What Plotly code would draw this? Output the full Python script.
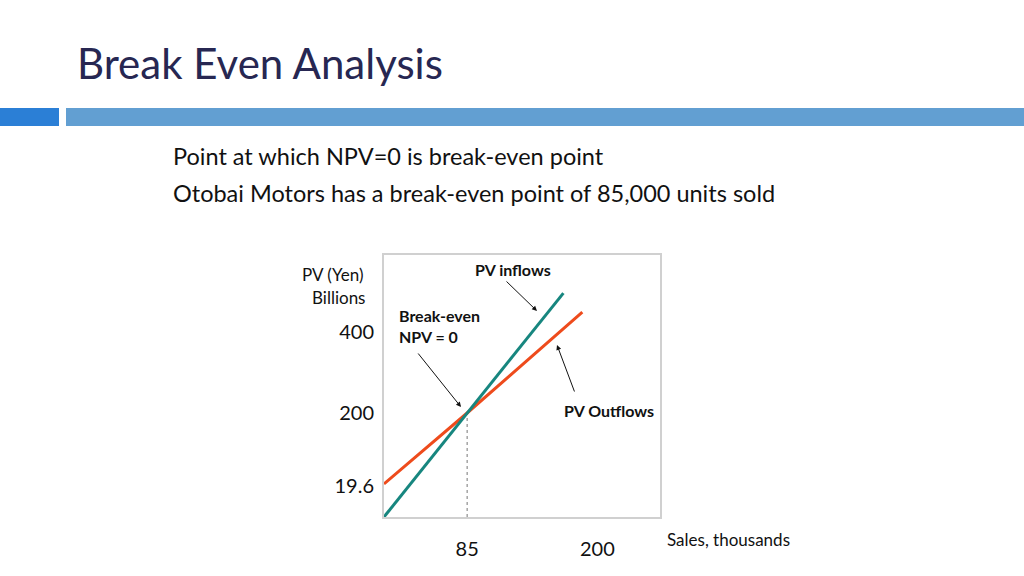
import plotly.graph_objects as go

# data (sales in thousands, PV in yen billions)
sales_in = [11.6, 85, 170]
pv_inflows = [-57.6, 200, 497]
sales_out = [11.6, 85, 186.7]
pv_outflows = [24.2, 200, 450]
breakeven_sales = 85
breakeven_pv = 200

x_ticks = [85, 200]
y_ticks = [19.6, 200, 400]
y_ticktext = ["19.6", "200", "400"]

FONT = "Lato"
W, H = 1024, 576

def px(x):
    return x / W

def py(y):
    return 1 - y / H

fig = go.Figure()

# dotted drop line at break-even
fig.add_trace(go.Scatter(x=[breakeven_sales, breakeven_sales], y=[-57.6, breakeven_pv],
                         mode="lines", line=dict(color="#777777", width=1, dash="dot"),
                         hoverinfo="skip"))
fig.add_trace(go.Scatter(x=sales_out, y=pv_outflows, mode="lines", name="PV Outflows",
                         line=dict(color="#ee4b1c", width=3)))
fig.add_trace(go.Scatter(x=sales_in, y=pv_inflows, mode="lines", name="PV inflows",
                         line=dict(color="#17867f", width=3)))

fig.update_layout(
    width=W, height=H,
    margin=dict(l=0, r=0, t=0, b=0),
    paper_bgcolor="white", plot_bgcolor="white",
    showlegend=False,
    font=dict(family=FONT, color="#111111"),
    xaxis=dict(domain=[px(384), px(660)], range=[11.6, 255.3],
               tickvals=x_ticks, ticktext=[str(v) for v in x_ticks],
               tickfont=dict(size=20), ticks="", ticklabelstandoff=13,
               showgrid=False, zeroline=False, showline=True, mirror=True,
               linecolor="#d0d0d0", linewidth=2),
    yaxis=dict(domain=[py(517), py(255)], range=[-57.6, 591.3],
               tickvals=y_ticks, ticktext=y_ticktext,
               tickfont=dict(size=20), ticks="", ticklabelstandoff=4,
               showgrid=False, zeroline=False, showline=True, mirror=True,
               linecolor="#d0d0d0", linewidth=2),
)

# header bars
fig.add_shape(type="rect", xref="paper", yref="paper", x0=0, x1=px(59), y0=py(126), y1=py(108),
              fillcolor="#2b7fd6", line_width=0)
fig.add_shape(type="rect", xref="paper", yref="paper", x0=px(66), x1=1, y0=py(126), y1=py(108),
              fillcolor="#629fd2", line_width=0)

# slide text
fig.add_annotation(xref="paper", yref="paper", x=px(75), y=py(63), xanchor="left", yanchor="middle",
                   text="Break Even Analysis", showarrow=False,
                   font=dict(size=42, color="#272752", family=FONT))
fig.add_annotation(xref="paper", yref="paper", x=px(171), y=py(156), xanchor="left", yanchor="middle",
                   text="Point at which NPV=0 is break-even point", showarrow=False,
                   font=dict(size=23.5, color="#111111"))
fig.add_annotation(xref="paper", yref="paper", x=px(171), y=py(193), xanchor="left", yanchor="middle",
                   text="Otobai Motors has a break-even point of 85,000 units sold", showarrow=False,
                   font=dict(size=23.5, color="#111111"))

# axis captions
fig.add_annotation(xref="paper", yref="paper", x=px(332), y=py(274), xanchor="center", yanchor="middle",
                   text="PV (Yen)", showarrow=False, font=dict(size=17))
fig.add_annotation(xref="paper", yref="paper", x=px(338), y=py(297), xanchor="center", yanchor="middle",
                   text="Billions", showarrow=False, font=dict(size=17))
fig.add_annotation(xref="paper", yref="paper", x=px(728), y=py(539), xanchor="center", yanchor="middle",
                   text="Sales, thousands", showarrow=False, font=dict(size=17))

# callouts
bold = dict(size=16, color="#111111", family=FONT)
fig.add_annotation(xref="paper", yref="paper", x=px(513), y=py(269), xanchor="center", yanchor="middle",
                   text="<b>PV inflows</b>", showarrow=False, font=bold)
fig.add_annotation(xref="paper", yref="paper", x=px(397), y=py(326), xanchor="left", yanchor="middle",
                   text="<b>Break-even</b><br><b>NPV = 0</b>", align="left", showarrow=False, font=bold)
fig.add_annotation(xref="paper", yref="paper", x=px(609), y=py(410), xanchor="center", yanchor="middle",
                   text="<b>PV Outflows</b>", showarrow=False, font=bold)

arrows = [((505, 280), (537, 311)), ((417, 352), (461, 407)), ((575, 393), (557, 345))]
for (x0, y0), (x1, y1) in arrows:
    fig.add_annotation(xref="paper", yref="paper", x=px(x1), y=py(y1),
                       axref="pixel", ayref="pixel", ax=x0 - x1, ay=y0 - y1,
                       text="", showarrow=True, arrowhead=2, arrowsize=1, arrowwidth=1,
                       arrowcolor="#111111")

# drop the default page margin so the slide fills the window
fig.write_html("out.html", config={"displayModeBar": False},
               post_script="document.body.style.margin='0';")
